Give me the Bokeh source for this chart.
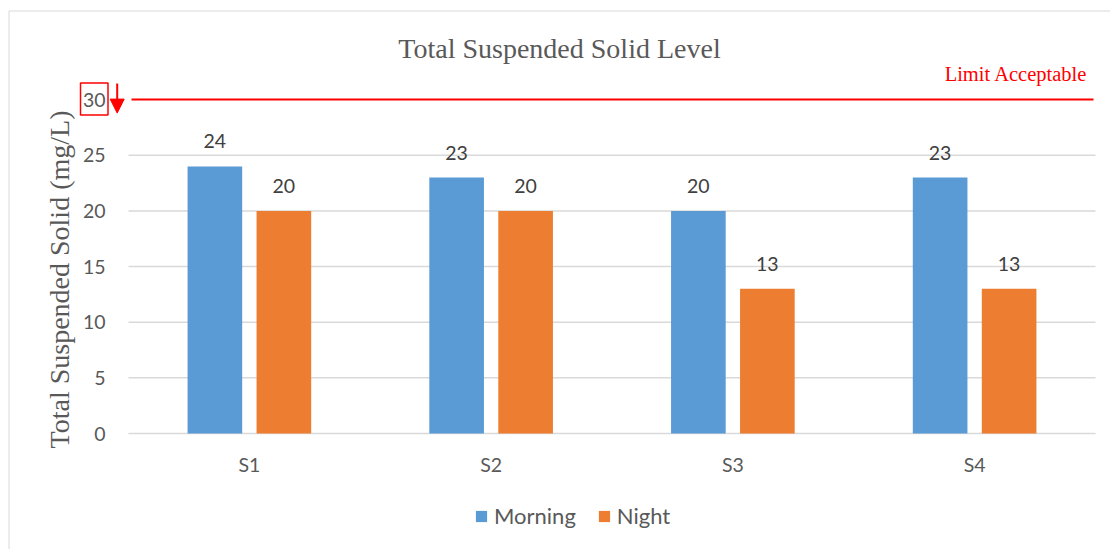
from math import pi
from bokeh.plotting import figure
from bokeh.models import (ColumnDataSource, Range1d, LabelSet, Arrow, NormalHead,
                          Legend, LegendItem)
from bokeh.core.properties import value
from bokeh.embed import file_html
from bokeh.resources import INLINE

# Sampling sites and measured total suspended solids (mg/L)
sites = ["S1", "S2", "S3", "S4"]
morning = [24, 23, 20, 23]
night = [20, 20, 13, 13]
y_ticks = [0, 5, 10, 15, 20, 25, 30]
limit = 30
series = ["Morning", "Night"]
title = "Total Suspended Solid Level"
y_label = "Total Suspended Solid (mg/L)"
limit_label = "Limit Acceptable"

BLUE = "#5B9BD5"
ORANGE = "#ED7D31"
GREY_TXT = "#595959"
DARK_TXT = "#404040"
GRID = "#D9D9D9"
RED = "#FF0000"
SANS = "Lato"
SERIF = "Liberation Serif"
TICK_SIZE = "19.5px"
LEGEND_SIZE = "22px"

# Canvas geometry: the plotting frame fills the whole canvas, the category
# axis starts at X0 px and value 0 sits at Y0 px.
W, H = 1110, 549
X0, X1 = 128, 1095           # horizontal extent of the category band
Y0 = 433                     # pixel row of value 0
PX_PER_UNIT = 11.13          # vertical pixels per mg/L
CAT = (X1 - X0) / len(sites)

def px_x(px):
    return (px - X0) / CAT

def px_y(py):
    return (Y0 - py) / PX_PER_UNIT

p = figure(width=W, height=H, output_backend="svg", toolbar_location=None,
           x_range=Range1d(px_x(0), px_x(W)), y_range=Range1d(px_y(H), px_y(0)),
           x_axis_type=None, y_axis_type=None, min_border=0,
           title=None, outline_line_color=None)
p.xgrid.visible = False
p.ygrid.visible = False
p.background_fill_color = "white"
p.border_fill_color = "white"

centers = [i + 0.5 for i in range(len(sites))]
off = 0.1427
bw = 0.226

src = ColumnDataSource(dict(
    x=centers,
    xm=[c - off for c in centers],
    xn=[c + off for c in centers],
    site=sites,
    morning=morning,
    night=night,
    morning_txt=[str(v) for v in morning],
    night_txt=[str(v) for v in night],
))

# outer chart border
p.quad(left=px_x(8.5), right=px_x(W + 20), top=px_y(10.5), bottom=px_y(H + 20),
       fill_color=None, line_color=GRID, line_width=1)

# horizontal grid lines and category baseline
grid_vals = [t for t in y_ticks if t < limit]
p.segment(x0=0, x1=len(sites), y0=grid_vals, y1=grid_vals,
          line_color=GRID, line_width=1.5)

# value tick labels
p.text(x=px_x(105), y=y_ticks, text=[str(t) for t in y_ticks],
       text_align="right", text_baseline="middle", text_font=value(SANS),
       text_font_size=TICK_SIZE, text_color=GREY_TXT)

# category labels
p.text(x=centers, y=px_y(464), text=sites, text_align="center",
       text_baseline="middle", text_font=value(SANS), text_font_size=TICK_SIZE,
       text_color=GREY_TXT)

# value axis title
p.text(x=[px_x(59)], y=[px_y(279)], text=[y_label], angle=pi / 2,
       text_align="center", text_baseline="middle", text_font=value(SERIF),
       text_font_size="28px", text_color=GREY_TXT)

# chart title
p.text(x=[px_x(559)], y=[px_y(48)], text=[title], text_align="center",
       text_baseline="middle", text_font=value(SERIF), text_font_size="28px",
       text_color=GREY_TXT)

# bars
r_m = p.vbar(x="xm", top="morning", width=bw, source=src,
             fill_color=BLUE, line_color=None)
r_n = p.vbar(x="xn", top="night", width=bw, source=src,
             fill_color=ORANGE, line_color=None)

for xcol, col in (("xm", "morning"), ("xn", "night")):
    p.add_layout(LabelSet(x=xcol, y=col, text=col + "_txt", source=src,
                          text_align="center", text_baseline="middle", y_offset=25,
                          text_font=value(SANS), text_font_size=TICK_SIZE,
                          text_color=DARK_TXT))

# acceptable limit: line, caption, boxed tick and arrow
p.segment(x0=px_x(131), x1=px_x(1093), y0=limit, y1=limit,
          line_color=RED, line_width=2)
p.text(x=[px_x(1087)], y=[px_y(73)], text=[limit_label], text_align="right",
       text_baseline="middle", text_font=value(SERIF), text_font_size="20.5px",
       text_color=RED)
p.quad(left=px_x(80), right=px_x(107.5),
       top=limit + 16.5 / PX_PER_UNIT, bottom=limit - 15.5 / PX_PER_UNIT,
       fill_color=None, line_color=RED, line_width=1.5)
p.add_layout(Arrow(end=NormalHead(size=14, fill_color=RED, line_color=RED),
                   x_start=px_x(116.7), y_start=limit + 16 / PX_PER_UNIT,
                   x_end=px_x(116.7), y_end=limit - 13.5 / PX_PER_UNIT,
                   line_color=RED, line_width=2))

legend = Legend(items=[LegendItem(label=series[0], renderers=[r_m]),
                       LegendItem(label=series[1], renderers=[r_n])],
                orientation="horizontal", location=(474, 20),
                glyph_width=14, glyph_height=14, label_standoff=6, spacing=21,
                padding=0, margin=0, border_line_color=None, background_fill_alpha=0,
                label_text_font=SANS, label_text_font_size=LEGEND_SIZE,
                label_text_color=GREY_TXT, label_text_baseline="middle")
p.add_layout(legend, "center")

open("out.html", "w").write(file_html(p, INLINE))
